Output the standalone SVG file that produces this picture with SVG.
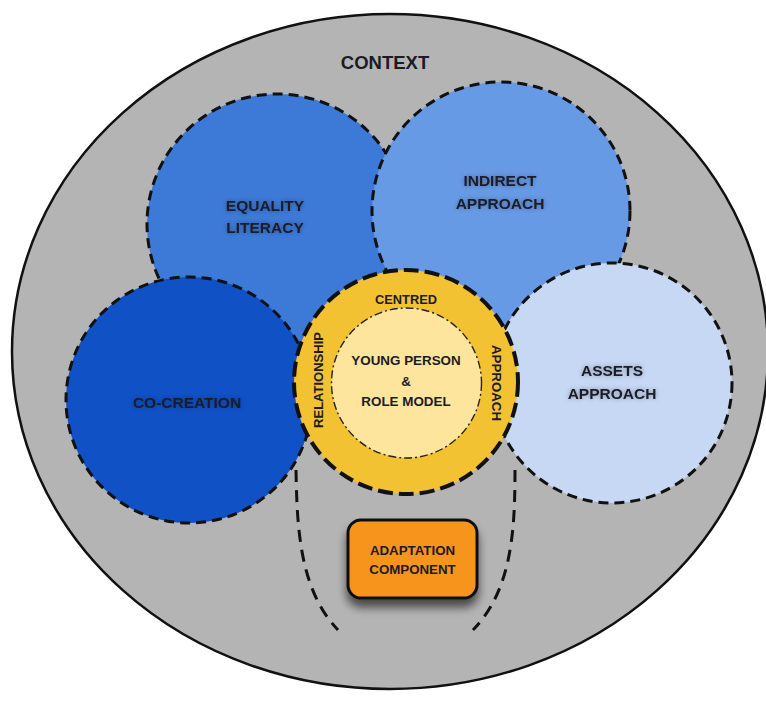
<svg xmlns="http://www.w3.org/2000/svg" width="766" height="702" viewBox="0 0 766 702">
<style>
.t{font-family:"Liberation Sans",Arial,sans-serif;font-weight:bold;fill:#1b1b26;text-anchor:middle}
.big{font-size:15.5px}
.mid{font-size:13.4px}
.blue{stroke:#111;stroke-width:3;stroke-dasharray:10 6}
</style>
<defs>
<filter id="glow" x="-20%" y="-40%" width="140%" height="180%">
<feGaussianBlur in="SourceAlpha" stdDeviation="2.5" result="b"/>
<feComponentTransfer in="b" result="s"><feFuncA type="linear" slope="0.35"/></feComponentTransfer>
<feMerge><feMergeNode in="s"/><feMergeNode in="SourceGraphic"/></feMerge>
</filter>
<filter id="shadow" x="-30%" y="-30%" width="160%" height="180%">
<feGaussianBlur in="SourceAlpha" stdDeviation="5"/>
<feOffset dx="0" dy="8" result="o"/>
<feComponentTransfer in="o" result="s"><feFuncA type="linear" slope="0.6"/></feComponentTransfer>
<feMerge><feMergeNode in="s"/><feMergeNode in="SourceGraphic"/></feMerge>
</filter>
</defs>
<rect width="766" height="702" fill="#fff"/>
<g id="context">
<ellipse cx="390" cy="351.5" rx="378" ry="337.5" fill="#b4b4b4" stroke="#111" stroke-width="2.5"/>
<text class="t" x="385" y="68.5" font-size="18.5">CONTEXT</text>
</g>
<g id="connectors" fill="none" stroke="#111" stroke-width="3" stroke-dasharray="12 8">
<path d="M296 470 C297 530 300 590 338 630"/>
<path d="M515 470 C515 530 512 590 473 630"/>
</g>
<g id="equality">
<circle cx="277" cy="224" r="130" fill="#3d79d7" class="blue"/>
<text class="t big" x="265" y="210.5" filter="url(#glow)">EQUALITY</text>
<text class="t big" x="265" y="232.5" filter="url(#glow)">LITERACY</text>
</g>
<g id="indirect">
<circle cx="501" cy="211" r="129" fill="#679ae5" class="blue"/>
<text class="t big" x="500" y="185.5" filter="url(#glow)">INDIRECT</text>
<text class="t big" x="500" y="208.5" filter="url(#glow)">APPROACH</text>
</g>
<g id="cocreation">
<circle cx="189" cy="400" r="123" fill="#1051c6" class="blue"/>
<text class="t big" x="187" y="407.5" filter="url(#glow)">CO-CREATION</text>
</g>
<g id="assets">
<circle cx="612" cy="383" r="120" fill="#c6d8f4" class="blue"/>
<text class="t big" x="612" y="375.5" filter="url(#glow)">ASSETS</text>
<text class="t big" x="612" y="398.5" filter="url(#glow)">APPROACH</text>
</g>
<g id="relationship">
<circle cx="406" cy="382" r="112" fill="#f2c233" stroke="#111" stroke-width="4" stroke-dasharray="15 6"/>
<text class="t" x="406" y="303.6" font-size="12.8">CENTRED</text>
<text class="t" font-size="13" transform="translate(318 380) rotate(-90)" y="4.7">RELATIONSHIP</text>
<text class="t" font-size="13.3" transform="translate(497 383) rotate(90)" y="4.7">APPROACH</text>
</g>
<g id="core">
<circle cx="406.5" cy="383" r="75" fill="#fde59d" stroke="#222" stroke-width="1.4" stroke-dasharray="8 3 2 3"/>
<text class="t mid" x="406" y="364.8">YOUNG PERSON</text>
<text class="t mid" x="406" y="385.8">&amp;</text>
<text class="t mid" x="406" y="405.8">ROLE MODEL</text>
</g>
<g id="adaptation">
<rect x="348" y="520" width="129" height="78" rx="13" fill="#f7941e" stroke="#111" stroke-width="3" filter="url(#shadow)"/>
<text class="t" x="412.5" y="554.7" font-size="13.3">ADAPTATION</text>
<text class="t" x="412.5" y="573.7" font-size="13.3">COMPONENT</text>
</g>
</svg>
